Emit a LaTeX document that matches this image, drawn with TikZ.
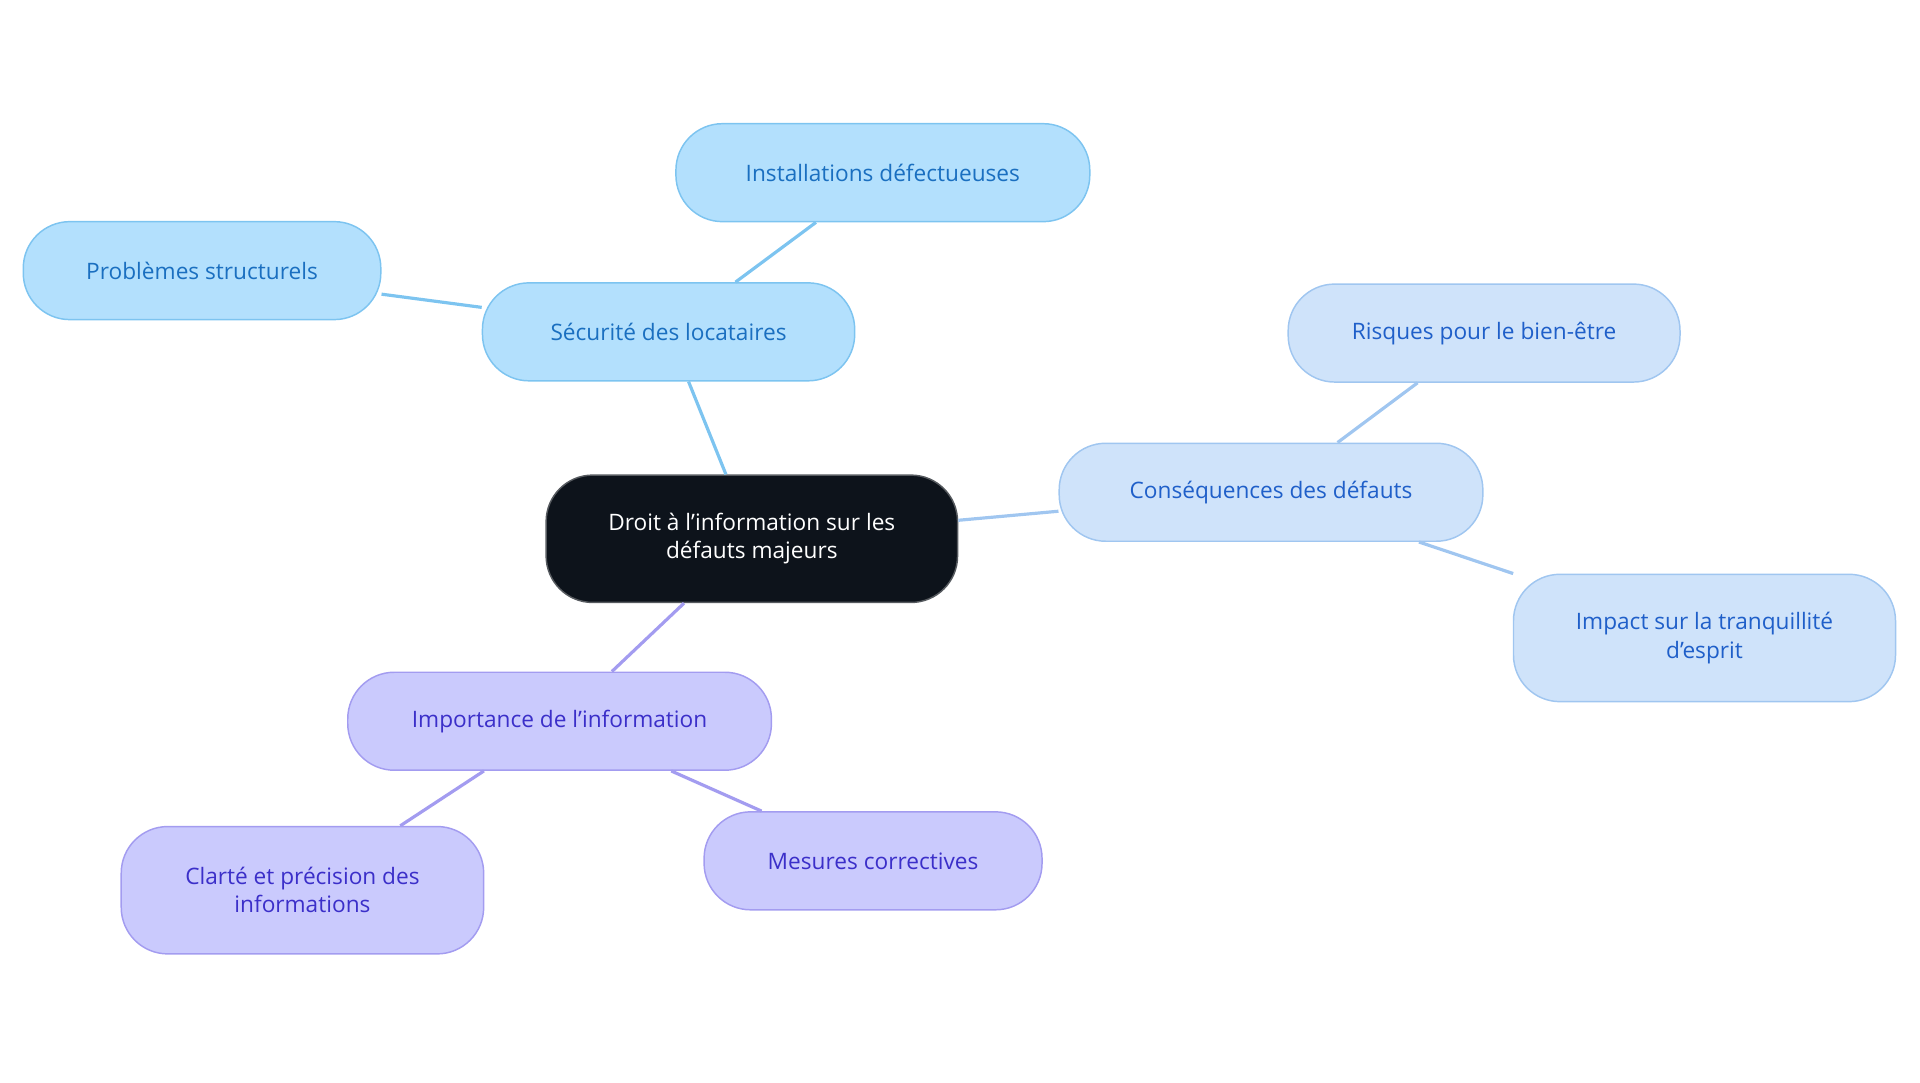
\documentclass[tikz,border=0pt]{standalone}
\usepackage{fontspec}
\setmainfont{Open Sans}
\definecolor{bA}{HTML}{B3E0FD}\definecolor{bAs}{HTML}{7DC4F0}\definecolor{bAt}{HTML}{1A6FC0}
\definecolor{bB}{HTML}{CFE3FA}\definecolor{bBs}{HTML}{A0C6F0}\definecolor{bBt}{HTML}{1F5FC9}
\definecolor{bC}{HTML}{CACAFD}\definecolor{bCs}{HTML}{A39CF0}\definecolor{bCt}{HTML}{3B2FC9}
\definecolor{dark}{HTML}{0D131B}
\begin{document}
\begin{tikzpicture}[x=1pt,y=-1pt,
 box/.style={rounded corners=38pt,line width=1.2pt,align=center,font=\fontsize{18.5}{23}\selectfont,inner sep=0pt},
 sA/.style={box,fill=bA,draw=bAs,text=bAt},
 sB/.style={box,fill=bB,draw=bBs,text=bBt},
 sC/.style={box,fill=bC,draw=bCs,text=bCt},
 eA/.style={draw=bAs,line width=2.6pt},
 eB/.style={draw=bBs,line width=2.6pt},
 eC/.style={draw=bCs,line width=2.6pt}]
\useasboundingbox (0,0) rectangle (1568,884);
\node[box,fill=dark,draw=dark!70,text=white,minimum width=336pt,minimum height=104pt] (c) at (614,440) {Droit à l'information sur les\\défauts majeurs};
\node[sA,minimum width=304pt,minimum height=80pt] (s) at (546,271) {Sécurité des locataires};
\node[sA,minimum width=338pt,minimum height=80pt] (i) at (721,141) {Installations défectueuses};
\node[sA,minimum width=292pt,minimum height=80pt] (p) at (165,221) {Problèmes structurels};
\node[sB,minimum width=346pt,minimum height=80pt] (q) at (1038,402) {Conséquences des défauts};
\node[sB,minimum width=320pt,minimum height=80pt] (r) at (1212,272) {Risques pour le bien-être};
\node[sB,minimum width=312pt,minimum height=104pt] (t) at (1392,521) {Impact sur la tranquillité\\d'esprit};
\node[sC,minimum width=346pt,minimum height=80pt] (m) at (457,589) {Importance de l'information};
\node[sC,minimum width=296pt,minimum height=104pt] (k) at (247,727) {Clarté et précision des\\informations};
\node[sC,minimum width=276pt,minimum height=80pt] (v) at (713,703) {Mesures correctives};
\begin{scope}[on background layer/.style={}]
\end{scope}
\draw[eA] (c) -- (s); \draw[eA] (s) -- (i); \draw[eA] (s) -- (p);
\draw[eB] (c) -- (q); \draw[eB] (q) -- (r); \draw[eB] (q) -- (t);
\draw[eC] (c) -- (m); \draw[eC] (m) -- (k); \draw[eC] (m) -- (v);
\end{tikzpicture}
\end{document}
